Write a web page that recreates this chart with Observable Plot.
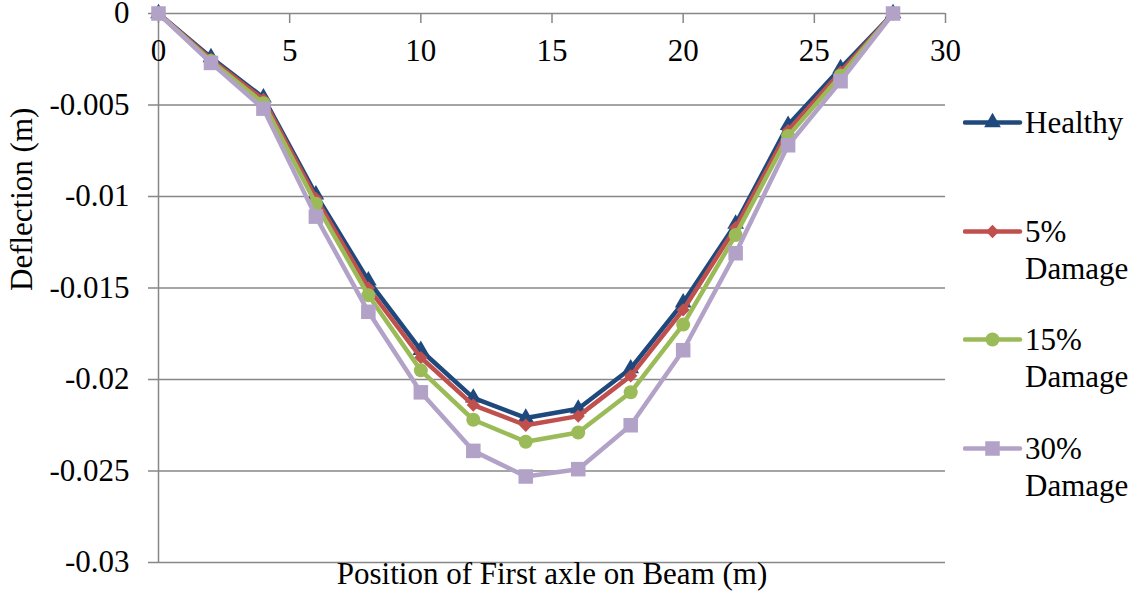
<!DOCTYPE html>
<html>
<head>
<meta charset="utf-8">
<script src="https://cdn.jsdelivr.net/npm/d3@7"></script>
<script src="https://cdn.jsdelivr.net/npm/@observablehq/plot@0.6"></script>
<style>
  html, body { margin: 0; padding: 0; background: #fff; }
  #wrap { position: relative; width: 1148px; height: 610px; font-family: "Liberation Serif", Tinos, "DejaVu Serif", serif; }
  #legend { position: absolute; left: 963px; top: 104px; }
  .item { display: flex; align-items: flex-start; height: 108.5px; }
  .item svg { flex: none; }
  .item .lbl { font-size: 31px; line-height: 37px; color: #000; width: 122px; margin-left: 2px; }
</style>
</head>
<body>
<div id="wrap">
  <div id="chart"></div>
  <div id="legend"></div>
</div>
<script>
// Position of the first axle along the beam (m)
const positions = [0, 2, 4, 6, 8, 10, 12, 14, 16, 18, 20, 22, 24, 26, 28];

// Mid-span deflection (m) for each damage state
const healthy  = [0, -0.0024, -0.0046, -0.0099, -0.0146, -0.0184, -0.0210, -0.0221, -0.0216, -0.0194, -0.0158, -0.0115, -0.0061, -0.0030, 0];
const damage5  = [0, -0.0025, -0.0047, -0.0101, -0.0150, -0.0188, -0.0214, -0.0225, -0.0220, -0.0198, -0.0162, -0.0117, -0.0064, -0.0032, 0];
const damage15 = [0, -0.0026, -0.0049, -0.0104, -0.0154, -0.0195, -0.0222, -0.0234, -0.0229, -0.0207, -0.0170, -0.0121, -0.0067, -0.0034, 0];
const damage30 = [0, -0.0027, -0.0052, -0.0111, -0.0163, -0.0207, -0.0239, -0.0253, -0.0249, -0.0225, -0.0184, -0.0131, -0.0072, -0.0037, 0];

const seriesNames = ["Healthy", "5% Damage", "15% Damage", "30% Damage"];

// Axis ticks and their labels
const xTicks = [0, 5, 10, 15, 20, 25, 30];
const yTicks = [0, -0.005, -0.01, -0.015, -0.02, -0.025, -0.03];
const yTickLabels = ["0", "-0.005", "-0.01", "-0.015", "-0.02", "-0.025", "-0.03"];

const xTitle = "Position of First axle on Beam (m)";
const yTitle = "Deflection (m)";

// Styling per series
const colors  = ["#1F497D", "#C0504D", "#9BBB59", "#B3A2C7"];
const symbols = ["triangle", "diamond2", "circle", "square"];
const radii   = [6.2, 6, 7, 8.2];
const d3Symbols = [d3.symbolTriangle, d3.symbolDiamond2, d3.symbolCircle, d3.symbolSquare];

const seriesValues = [healthy, damage5, damage15, damage30];
const series = seriesNames.map((name, s) => ({
  name,
  color: colors[s],
  symbol: symbols[s],
  r: radii[s],
  rows: positions.map((x, i) => ({ x, y: seriesValues[s][i] }))
}));

const W = 1148, H = 610;
const mTop = 13, mBottom = 48, mLeft = 158, mRight = 203;
const tickLen = 10;
const grid = "#878787";
const font = "'Liberation Serif', Tinos, 'DejaVu Serif', serif";

const seriesMarks = series.flatMap(s => [
  Plot.line(s.rows, { x: "x", y: "y", stroke: s.color, strokeWidth: 4.5, strokeLinejoin: "round", strokeLinecap: "round" }),
  Plot.dot(s.rows, { x: "x", y: "y", symbol: () => s.symbol, r: s.r, fill: s.color, stroke: "none" })
]);

const chart = Plot.plot({
  width: W,
  height: H,
  marginTop: mTop,
  marginBottom: mBottom,
  marginLeft: mLeft,
  marginRight: mRight,
  style: { fontFamily: font, fontSize: "31px", color: "#000", background: "#fff", overflow: "visible" },
  x: { domain: [0, 30], axis: null },
  y: { domain: [-0.03, 0], axis: null },
  symbol: { type: "identity" },
  marks: [
    // horizontal gridlines (the 0 line doubles as the x axis)
    Plot.ruleY(yTicks, { stroke: grid, strokeWidth: 1.5 }),
    // vertical axis line
    Plot.ruleX([0], { stroke: grid, strokeWidth: 1.5 }),
    // x ticks hanging down from the zero line
    Plot.ruleX(xTicks, { x: d => d, stroke: grid, strokeWidth: 1.5, insetBottom: H - mTop - mBottom - tickLen }),
    // x tick labels, just below the zero line
    Plot.text(xTicks, { x: d => d, y: 0, dy: 38, text: d => String(d), fill: "#000", fontSize: 31, fontFamily: font }),
    // y axis ticks and labels
    Plot.axisY({
      ticks: yTicks,
      tickSize: tickLen,
      tickPadding: 19,
      stroke: grid,
      strokeWidth: 1.5,
      strokeOpacity: 1,
      tickFormat: d => yTickLabels[yTicks.findIndex(t => Math.abs(t - d) < 1e-9)],
      label: null,
      fontSize: 31,
      fontFamily: font,
      fill: "#000"
    }),
    // axis titles
    Plot.text([xTitle], { frameAnchor: "bottom", dy: 21, text: d => d, fill: "#000", fontSize: 31, fontFamily: font }),
    Plot.text([yTitle], { frameAnchor: "left", dx: -136, dy: 3, rotate: -90, text: d => d, fill: "#000", fontSize: 31, fontFamily: font }),
    ...seriesMarks
  ]
});

document.getElementById("chart").appendChild(chart);

// Legend: line swatch with marker, then the series name
const legend = d3.select("#legend");
series.forEach((s, k) => {
  const item = legend.append("div").attr("class", "item");
  const svg = item.append("svg").attr("width", 60).attr("height", 37);
  svg.append("line")
    .attr("x1", 2).attr("x2", 57).attr("y1", 18.5).attr("y2", 18.5)
    .attr("stroke", s.color).attr("stroke-width", 4.5).attr("stroke-linecap", "round");
  svg.append("path")
    .attr("transform", "translate(29.5,18.5)")
    .attr("d", d3.symbol(d3Symbols[k], Math.PI * s.r * s.r)())
    .attr("fill", s.color);
  item.append("div").attr("class", "lbl").text(s.name);
});
</script>
</body>
</html>
